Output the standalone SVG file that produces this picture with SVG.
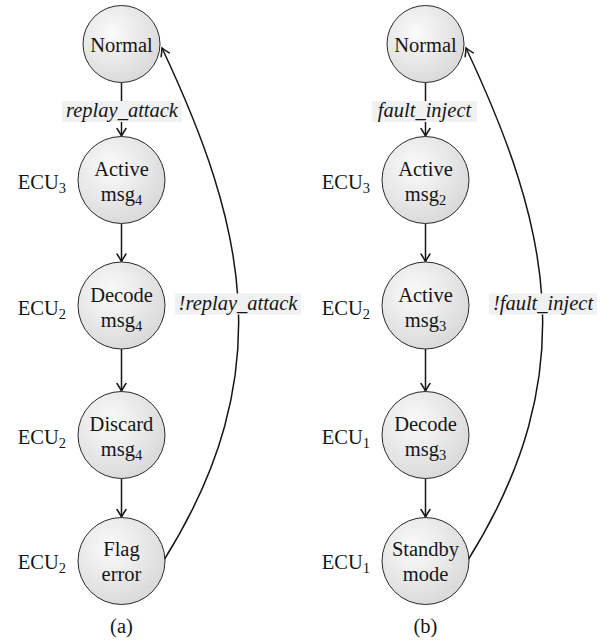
<svg xmlns="http://www.w3.org/2000/svg" width="609" height="641" viewBox="0 0 609 641">
<style>
.node{fill:url(#shade);stroke:#2a2a2a;stroke-width:1}
.t{font-family:"Liberation Serif","Times New Roman",serif;font-size:20.5px;fill:#161616}
.c{text-anchor:middle}
.e{text-anchor:end}
.i{font-style:italic}
.sub{font-size:14.5px}
.edge{fill:none;stroke:#161616;stroke-width:1.5}
.lbl{fill:#eff1f3}
</style>
<defs>
<radialGradient id="shade" cx="0.38" cy="0.35" r="0.75">
<stop offset="0" stop-color="#fbfbfb"/>
<stop offset="1" stop-color="#d6d6d6"/>
</radialGradient>
<marker id="arr" markerUnits="userSpaceOnUse" markerWidth="14" markerHeight="12" viewBox="-9 -6 10 12" refX="0" refY="0" orient="auto">
<path d="M-7.5,-4.5 Q-3,-1.5 0,0 Q-3,1.5 -7.5,4.5" fill="none" stroke="#161616" stroke-width="1.5" stroke-linecap="round"/>
</marker>
</defs>

<g id="connectors">
<line class="edge" x1="121.5" y1="82.5" x2="121.5" y2="136" marker-end="url(#arr)"/>
<line class="edge" x1="121.5" y1="224" x2="121.5" y2="261.5" marker-end="url(#arr)"/>
<line class="edge" x1="121.5" y1="349" x2="121.5" y2="391" marker-end="url(#arr)"/>
<line class="edge" x1="121.5" y1="478.5" x2="121.5" y2="517" marker-end="url(#arr)"/>
<path class="edge" d="M164,560 C281,373 245,224.5 162,48" marker-end="url(#arr)"/>
<line class="edge" x1="425.5" y1="82.5" x2="425.5" y2="136" marker-end="url(#arr)"/>
<line class="edge" x1="425.5" y1="224" x2="425.5" y2="261.5" marker-end="url(#arr)"/>
<line class="edge" x1="425.5" y1="349" x2="425.5" y2="391" marker-end="url(#arr)"/>
<line class="edge" x1="425.5" y1="478.5" x2="425.5" y2="517" marker-end="url(#arr)"/>
<path class="edge" d="M468,560 C585,373 549,224.5 466,48" marker-end="url(#arr)"/>
<rect class="lbl" x="62" y="101" width="120" height="21"/>
<text class="t i c" x="122" y="117">replay_attack</text>
<rect class="lbl" x="175" y="293.5" width="126" height="21"/>
<text class="t i c" x="238" y="309.5">!replay_attack</text>
<rect class="lbl" x="372" y="101" width="105" height="21"/>
<text class="t i c" x="424.5" y="117">fault_inject</text>
<rect class="lbl" x="489" y="293.5" width="108" height="21"/>
<text class="t i c" x="543" y="309.5">!fault_inject</text>
</g>

<g id="a-normal"><circle class="node" cx="121.5" cy="44" r="38.5"/><text class="t c" x="121.5" y="52">Normal</text></g>
<g id="a-active"><circle class="node" cx="121.5" cy="180" r="43.5"/><text class="t c" x="121.5" y="176">Active</text><text class="t c" x="121.5" y="201">msg<tspan class="sub" dy="4">4</tspan></text><text class="t e" x="66" y="189">ECU<tspan class="sub" dy="4">3</tspan></text></g>
<g id="a-decode"><circle class="node" cx="121.5" cy="305.5" r="43.5"/><text class="t c" x="121.5" y="302">Decode</text><text class="t c" x="121.5" y="327">msg<tspan class="sub" dy="4">4</tspan></text><text class="t e" x="66" y="315">ECU<tspan class="sub" dy="4">2</tspan></text></g>
<g id="a-discard"><circle class="node" cx="121.5" cy="435" r="43.5"/><text class="t c" x="121.5" y="431">Discard</text><text class="t c" x="121.5" y="456">msg<tspan class="sub" dy="4">4</tspan></text><text class="t e" x="66" y="444">ECU<tspan class="sub" dy="4">2</tspan></text></g>
<g id="a-flag"><circle class="node" cx="121.5" cy="561" r="43.5"/><text class="t c" x="121.5" y="556">Flag</text><text class="t c" x="121.5" y="581">error</text><text class="t e" x="66" y="569">ECU<tspan class="sub" dy="4">2</tspan></text></g>

<g id="b-normal"><circle class="node" cx="425.5" cy="44" r="38.5"/><text class="t c" x="425.5" y="52">Normal</text></g>
<g id="b-active2"><circle class="node" cx="425.5" cy="180" r="43.5"/><text class="t c" x="425.5" y="176">Active</text><text class="t c" x="425.5" y="201">msg<tspan class="sub" dy="4">2</tspan></text><text class="t e" x="370" y="189">ECU<tspan class="sub" dy="4">3</tspan></text></g>
<g id="b-active3"><circle class="node" cx="425.5" cy="305.5" r="43.5"/><text class="t c" x="425.5" y="302">Active</text><text class="t c" x="425.5" y="327">msg<tspan class="sub" dy="4">3</tspan></text><text class="t e" x="370" y="315">ECU<tspan class="sub" dy="4">2</tspan></text></g>
<g id="b-decode"><circle class="node" cx="425.5" cy="435" r="43.5"/><text class="t c" x="425.5" y="431">Decode</text><text class="t c" x="425.5" y="456">msg<tspan class="sub" dy="4">3</tspan></text><text class="t e" x="370" y="444">ECU<tspan class="sub" dy="4">1</tspan></text></g>
<g id="b-standby"><circle class="node" cx="425.5" cy="561" r="43.5"/><text class="t c" x="425.5" y="556">Standby</text><text class="t c" x="425.5" y="581">mode</text><text class="t e" x="370" y="569">ECU<tspan class="sub" dy="4">1</tspan></text></g>

<g id="captions">
<text class="t c" x="121.5" y="633">(a)</text>
<text class="t c" x="425.5" y="633">(b)</text>
</g>
</svg>
